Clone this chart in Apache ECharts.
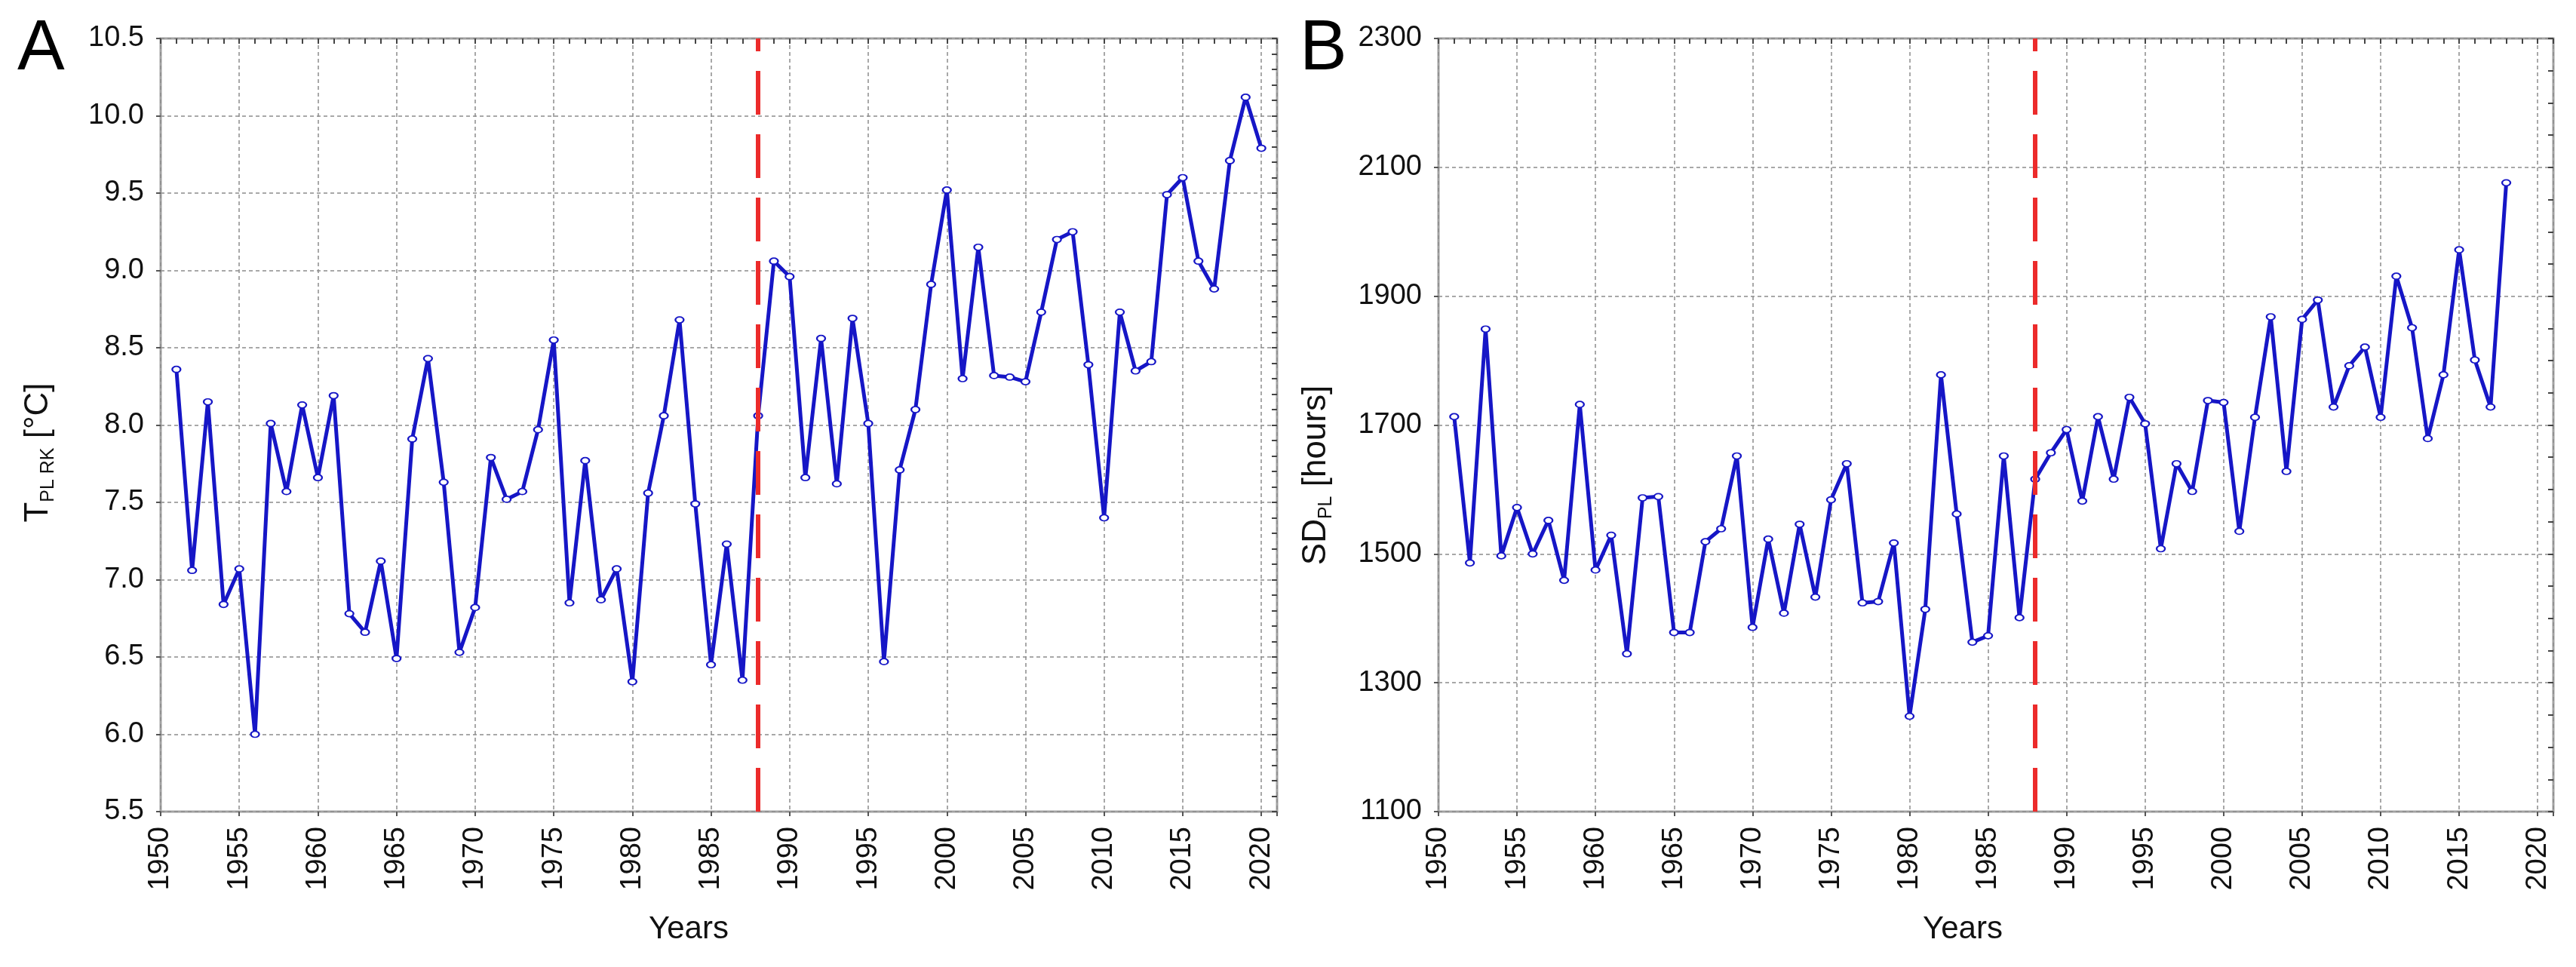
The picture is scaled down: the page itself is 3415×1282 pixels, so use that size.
<!DOCTYPE html>
<html>
<head>
<meta charset="utf-8">
<script src="https://cdn.jsdelivr.net/npm/echarts@6/dist/echarts.min.js"></script>
<style>
html, body { margin: 0; padding: 0; background: #ffffff; }
#chart { width: 3415px; height: 1282px; }
</style>
</head>
<body>
<div id="chart"></div>
<script>
// ---- Data ----
const yearsA = [1951,1952,1953,1954,1955,1956,1957,1958,1959,1960,
  1961,1962,1963,1964,1965,1966,1967,1968,1969,1970,
  1971,1972,1973,1974,1975,1976,1977,1978,1979,1980,
  1981,1982,1983,1984,1985,1986,1987,1988,1989,1990,
  1991,1992,1993,1994,1995,1996,1997,1998,1999,2000,
  2001,2002,2003,2004,2005,2006,2007,2008,2009,2010,
  2011,2012,2013,2014,2015,2016,2017,2018,2019,2020];
const tempA = [8.36,7.06,8.15,6.84,7.07,6.00,8.01,7.57,8.13,7.66,
  8.19,6.78,6.66,7.12,6.49,7.91,8.43,7.63,6.53,6.82,
  7.79,7.52,7.57,7.97,8.55,6.85,7.77,6.87,7.07,6.34,
  7.56,8.06,8.68,7.49,6.45,7.23,6.35,8.06,9.06,8.96,
  7.66,8.56,7.62,8.69,8.01,6.47,7.71,8.10,8.91,9.52,
  8.30,9.15,8.32,8.31,8.28,8.73,9.20,9.25,8.39,7.40,
  8.73,8.35,8.41,9.49,9.60,9.06,8.88,9.71,10.12,9.79];

const yearsB = [1951,1952,1953,1954,1955,1956,1957,1958,1959,1960,
  1961,1962,1963,1964,1965,1966,1967,1968,1969,1970,
  1971,1972,1973,1974,1975,1976,1977,1978,1979,1980,
  1981,1982,1983,1984,1985,1986,1987,1988,1989,1990,
  1991,1992,1993,1994,1995,1996,1997,1998,1999,2000,
  2001,2002,2003,2004,2005,2006,2007,2008,2009,2010,
  2011,2012,2013,2014,2015,2016,2017,2018];
const sunB = [1713,1486,1849,1497,1572,1500,1552,1459,1732,1475,
  1529,1345,1587,1589,1378,1378,1519,1539,1652,1386,
  1523,1408,1546,1433,1584,1640,1424,1426,1517,1248,
  1414,1778,1562,1363,1373,1652,1401,1616,1657,1693,
  1582,1713,1616,1743,1702,1508,1640,1597,1738,1735,
  1535,1712,1868,1628,1864,1894,1728,1792,1821,1712,
  1931,1851,1679,1778,1972,1801,1728,2076];

const breakYears = [1988];
const xRange = [1950, 2021];      // x axis extent (labels every 5 years)
const yRangeA = [5.5, 10.5];      // y axis A (step 0.5)
const yRangeB = [1100, 2300];     // y axis B (step 200)
const panelLetters = ['A', 'B'];
const xTitle = 'Years';
const yTitleA = '{m|T}{s|PL RK}{m| [°C]}';
const yTitleB = '{m|SD}{s|PL}{m| [hours]}';

// ---- Styles ----
const FONT = "'Liberation Sans', Arial, sans-serif";
const BLUE = '#1616c6';
const RED = '#ec2b2b';
const GRID_COLOR = '#8c8c8c';
const FRAME = '#a2a2a2';

const richTitle = {
  m: { fontSize: 44, fontFamily: FONT, color: '#111', lineHeight: 52 },
  s: { fontSize: 25, fontFamily: FONT, color: '#111', lineHeight: 25, verticalAlign: 'bottom' }
};

function bottomAxis(grid, padRight) {
  return {
    type: 'value', gridIndex: grid, position: 'bottom',
    min: xRange[0], max: xRange[1], interval: 5,
    axisLine: { show: false },
    axisTick: { show: true, inside: false, length: 6, lineStyle: { color: '#555', width: 2 } },
    axisLabel: {
      rotate: 90, margin: 20, fontSize: 38, fontFamily: FONT, color: '#111',
      formatter: v => (v % 5 === 0 ? String(v) : '')
    },
    splitLine: { show: true, lineStyle: { color: GRID_COLOR, width: 1.5, type: [5, 4] } },
    name: xTitle, nameLocation: 'middle', nameGap: 135,
    nameTextStyle: { fontSize: 42, fontFamily: FONT, color: '#111', padding: [0, padRight, 0, 0] }
  };
}
function topAxis(grid) {
  return {
    type: 'value', gridIndex: grid, position: 'top',
    min: xRange[0], max: xRange[1], interval: 1,
    axisLine: { show: false },
    axisTick: { show: true, inside: true, length: 7, lineStyle: { color: '#444', width: 2 } },
    axisLabel: { show: false },
    splitLine: { show: false }
  };
}
function leftAxis(grid, range, step, fmt, title, padRight) {
  return {
    type: 'value', gridIndex: grid, position: 'left',
    min: range[0], max: range[1], interval: step,
    axisLine: { show: false },
    axisTick: { show: true, inside: false, length: 6, lineStyle: { color: '#555', width: 2 } },
    axisLabel: { margin: 22, fontSize: 38, fontFamily: FONT, color: '#111', formatter: fmt },
    splitLine: { show: true, lineStyle: { color: GRID_COLOR, width: 1.5, type: [5, 4] } },
    name: title, nameLocation: 'middle', nameRotate: 90, nameGap: 136,
    nameTextStyle: { padding: [0, padRight, 0, 0], rich: richTitle }
  };
}
function rightAxis(grid, range, minorStep) {
  return {
    type: 'value', gridIndex: grid, position: 'right',
    min: range[0], max: range[1], interval: minorStep,
    axisLine: { show: false },
    axisTick: { show: true, inside: true, length: 7, lineStyle: { color: '#444', width: 2 } },
    axisLabel: { show: false },
    splitLine: { show: false }
  };
}
function lineSeries(xi, yi, xs, ys) {
  return {
    type: 'line', xAxisIndex: xi, yAxisIndex: yi,
    data: xs.map((x, i) => [x, ys[i]]),
    symbol: 'emptyCircle', symbolSize: [11, 8],
    lineStyle: { color: BLUE, width: 5 },
    itemStyle: { color: BLUE, borderColor: BLUE, borderWidth: 1.5 },
    z: 3, animation: false,
    markLine: {
      silent: true, symbol: 'none', animation: false,
      label: { show: false },
      lineStyle: { color: RED, width: 6, type: [58, 26] },
      data: breakYears.map(y => ({ xAxis: y })),
      z: 5
    }
  };
}

const chart = echarts.init(document.getElementById('chart'), null, { renderer: 'canvas' });
chart.setOption({
  backgroundColor: '#ffffff',
  animation: false,
  title: [
    { text: panelLetters[0], left: 18, top: 14, textStyle: { fontSize: 94, fontWeight: 'normal', fontFamily: FONT, color: '#000' } },
    { text: panelLetters[1], left: 1718, top: 14, textStyle: { fontSize: 94, fontWeight: 'normal', fontFamily: FONT, color: '#000' } }
  ],
  grid: [
    { left: 213, top: 51, width: 1480, height: 1025, show: true, borderColor: FRAME, borderWidth: 3, backgroundColor: 'transparent' },
    { left: 1907, top: 51, width: 1478, height: 1025, show: true, borderColor: FRAME, borderWidth: 3, backgroundColor: 'transparent' }
  ],
  xAxis: [ bottomAxis(0, 80), topAxis(0), bottomAxis(1, 88), topAxis(1) ],
  yAxis: [
    leftAxis(0, yRangeA, 0.5, v => v.toFixed(1), yTitleA, 73),
    rightAxis(0, yRangeA, 0.1),
    leftAxis(1, yRangeB, 200, v => String(v), yTitleB, 133),
    rightAxis(1, yRangeB, 50)
  ],
  series: [
    lineSeries(0, 0, yearsA, tempA),
    lineSeries(2, 2, yearsB, sunB)
  ]
});
</script>
</body>
</html>
